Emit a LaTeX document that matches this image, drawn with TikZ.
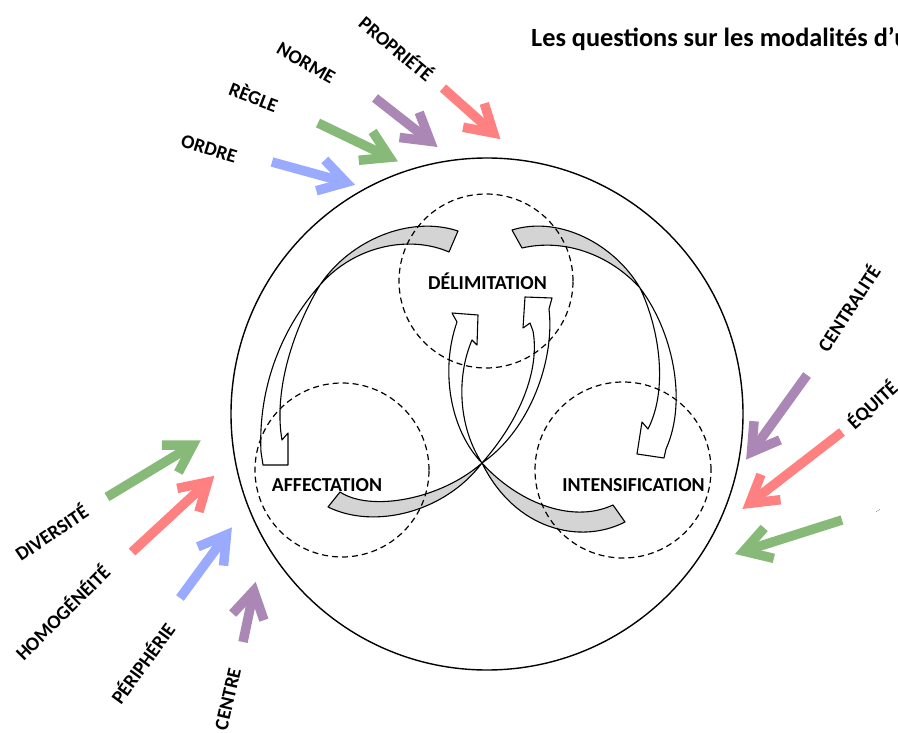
\documentclass[tikz,border=0pt]{standalone}
\usepackage{fontspec}
\setmainfont{Carlito}
\usetikzlibrary{calc}
\definecolor{cblue}{RGB}{153,170,255}
\definecolor{cgreen}{RGB}{135,185,120}
\definecolor{cpurple}{RGB}{170,135,180}
\definecolor{cred}{RGB}{255,128,128}
\definecolor{tailgray}{RGB}{212,212,212}
\newcommand{\colarrowdraw}[3]{%
  \coordinate (#3x) at ($(#3)!6pt!(#2)$);
  \draw[colarrow,#1] (#2) -- (#3x);
  \draw[colarrow,#1] ($(#3x)!31pt!31:(#2)$) -- (#3x) -- ($(#3x)!31pt!-31:(#2)$);}
\begin{document}
\begin{tikzpicture}[x=1pt,y=-1pt,
  colarrow/.style={line width=9.5pt, line cap=butt, line join=miter},
  outlab/.style={font=\fontsize{19.5}{20}\selectfont\bfseries, inner sep=0pt},
  inlab/.style={font=\fontsize{19.8}{20}\selectfont\bfseries, inner sep=0pt, anchor=base},
  dcirc/.style={draw=black, dash pattern=on 6pt off 4pt, line width=1.2pt},
  band/.style={draw=black, line width=1.1pt, line join=round},
  graytail/.style={band, fill=tailgray},
  whitepart/.style={band, fill=white}]
\useasboundingbox (0,0) rectangle (898,733);
\clip (0,0) rectangle (898,733);

% title
\node[anchor=base west, inner sep=0pt, font=\fontsize{26.3}{27}\selectfont\bfseries] (title) at (531,47) {Les questions sur les modalités d’u};

% big circle
\node[draw=black, line width=1.4pt, circle, minimum size=512pt, inner sep=0pt] (big) at (487,414) {};

% curved arrow 1 (top left -> affectation)
\filldraw[graytail] (458,231) .. controls (410,215) and (350,240) .. (320,285) .. controls (355,245) and (410,235) .. (449,252) -- cycle;
\filldraw[whitepart] (320,285) .. controls (280,330) and (258,390) .. (261,452) -- (263,465) -- (288,465) -- (288,433) -- (282,440) .. controls (274,395) and (290,335) .. (320,285) -- cycle;
% curved arrow 2 (top right -> intensification)
\filldraw[graytail] (512,230) .. controls (560,215) and (615,245) .. (640,288) .. controls (610,255) and (565,238) .. (522,248) -- cycle;
\filldraw[whitepart] (640,288) .. controls (672,330) and (688,400) .. (666,449) -- (664,458) -- (637,454) -- (642,422) -- (648,429) .. controls (668,390) and (660,330) .. (640,288) -- cycle;
% curved arrow 3 (bottom left -> delimitation)
\filldraw[graytail] (340,492) .. controls (370,512) and (440,500) .. (482,463) .. controls (445,512) and (375,530) .. (328,507) -- cycle;
\filldraw[whitepart] (482,463) .. controls (520,420) and (540,370) .. (533,331) -- (530,323) -- (523,328) -- (525,297) -- (552,298) -- (549,309) .. controls (555,360) and (530,430) .. (482,463) -- cycle;
% curved arrow 4 (bottom right -> delimitation)
\filldraw[graytail] (482,463) .. controls (515,500) and (570,525) .. (613,505) -- (625,522) .. controls (580,545) and (515,530) .. (482,463) -- cycle;
\filldraw[whitepart] (482,463) .. controls (450,430) and (440,370) .. (457,322) -- (452,313) -- (478,315) -- (477,345) -- (472,340) .. controls (455,380) and (460,430) .. (482,463) -- cycle;

% dashed circles
\node[dcirc, circle, minimum size=174pt, inner sep=0pt] (cdel) at (486,281) {};
\node[dcirc, circle, minimum size=174pt, inner sep=0pt] (caff) at (342,470) {};
\node[dcirc, circle, minimum size=176pt, inner sep=0pt] (cint) at (623,470) {};

% inner labels
\node[inlab] (ldel) at (487.5,289) {DÉLIMITATION};
\node[inlab] (laff) at (327,491) {AFFECTATION};
\node[inlab] (lint) at (633.5,491) {INTENSIFICATION};

% top arrows
\coordinate (s1) at (272,162); \coordinate (t1) at (352,184);
\coordinate (s2) at (318,123); \coordinate (t2) at (395,160);
\coordinate (s3) at (375,98);  \coordinate (t3) at (435,145);
\coordinate (s4) at (443,88);  \coordinate (t4) at (498,137);
\colarrowdraw{cblue}{s1}{t1}
\colarrowdraw{cgreen}{s2}{t2}
\colarrowdraw{cpurple}{s3}{t3}
\colarrowdraw{cred}{s4}{t4}
\node[outlab, rotate=-17] (ordre) at (209,149) {ORDRE};
\node[outlab, rotate=-21] (regle) at (254,96) {RÈGLE};
\node[outlab, rotate=-30] (norme) at (306,63) {NORME};
\node[outlab, rotate=-40] (prop) at (397,48) {PROPRIÉTÉ};

% bottom left arrows
\coordinate (s5) at (107,497); \coordinate (t5) at (198,442);
\coordinate (s6) at (132,552); \coordinate (t6) at (212,478);
\coordinate (s7) at (180,598); \coordinate (t7) at (230,530);
\coordinate (s8) at (243,642); \coordinate (t8) at (255,585);
\colarrowdraw{cgreen}{s5}{t5}
\colarrowdraw{cred}{s6}{t6}
\colarrowdraw{cblue}{s7}{t7}
\colarrowdraw{cpurple}{s8}{t8}
\node[outlab, rotate=34] (div) at (51,532) {DIVERSITÉ};
\node[outlab, rotate=45] (homo) at (62,612) {HOMOGÉNÉITÉ};
\node[outlab, rotate=54] (peri) at (142,663) {PÉRIPHÉRIE};
\node[outlab, rotate=77] (centre) at (228,699) {CENTRE};

% right arrows
\coordinate (s9) at (807,375);  \coordinate (t9) at (748,457);
\coordinate (s10) at (842,432); \coordinate (t10) at (745,507);
\coordinate (s11) at (842,520); \coordinate (t11) at (738,553);
\colarrowdraw{cpurple}{s9}{t9}
\colarrowdraw{cred}{s10}{t10}
\colarrowdraw{cgreen}{s11}{t11}
\node[outlab, rotate=57] (centr) at (848,308) {CENTRALITÉ};
\node[outlab, rotate=42, anchor=west] (equi) at (850,425) {ÉQUITÉ};
\node[font=\fontsize{6}{6}\selectfont, inner sep=0pt, rotate=30] (dots) at (878,511) {...};
\end{tikzpicture}
\end{document}
